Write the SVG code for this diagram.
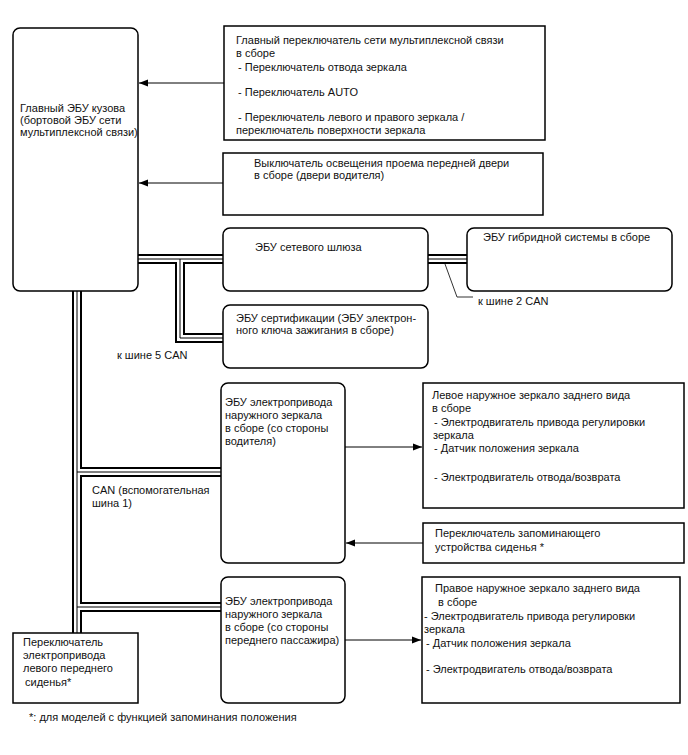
<svg xmlns="http://www.w3.org/2000/svg" width="688" height="755" viewBox="0 0 688 755">
<style>
text{font-family:"Liberation Sans",Arial,sans-serif;font-size:11px;fill:#111}
.box{fill:#fff;stroke:#000;stroke-width:1.5}
.bo{fill:none;stroke:#000;stroke-width:10}
.bi{fill:none;stroke:#fff;stroke-width:6}
.bm{fill:none;stroke:#000;stroke-width:1}
.ar{fill:none;stroke:#000;stroke-width:1;marker-end:url(#ah)}
</style>
<defs>
<marker id="ah" markerWidth="10" markerHeight="8" refX="9" refY="4" orient="auto" markerUnits="userSpaceOnUse">
<path d="M0,0.5 L9,4 L0,7.5 Z" fill="#000"/>
</marker>
<g id="buses">
<path d="M138,259 H223"/>
<path d="M180,259 V338 H223"/>
<path d="M428,259 H467"/>
<path d="M77,291 V633"/>
<path d="M77,472 H221"/>
<path d="M77,607 H221"/>
</g>
</defs>
<rect width="688" height="755" fill="#fff"/>
<g id="connectors">
<use href="#buses" class="bo"/>
<use href="#buses" class="bi"/>
<use href="#buses" class="bm"/>
<path class="ar" d="M224,83 H139"/>
<path class="ar" d="M223,183 H139"/>
<path class="ar" d="M345,447 H422"/>
<path class="ar" d="M423,543 H346"/>
<path class="ar" d="M345,640 H421"/>
<polyline points="445,264 457,297 473,297" fill="none" stroke="#333" stroke-width="1"/>
</g>
<g id="main-ecu">
<rect class="box" x="13" y="28" width="125" height="263" rx="7"/>
<text x="20" y="112">Главный ЭБУ кузова</text>
<text x="20" y="124">(бортовой ЭБУ сети</text>
<text x="20" y="136">мультиплексной связи)</text>
</g>
<g id="multiplex-switch">
<rect class="box" x="224" y="26" width="321" height="114"/>
<text x="236" y="44">Главный переключатель сети мультиплексной связи</text>
<text x="236" y="57">в сборе</text>
<text x="238" y="71">- Переключатель отвода зеркала</text>
<text x="238" y="96">- Переключатель AUTO</text>
<text x="238" y="121">- Переключатель левого и правого зеркала /</text>
<text x="236" y="134">переключатель поверхности зеркала</text>
</g>
<g id="door-light-switch">
<rect class="box" x="223" y="153" width="320" height="62"/>
<text x="254" y="167">Выключатель освещения проема передней двери</text>
<text x="254" y="179">в сборе (двери водителя)</text>
</g>
<g id="gateway-ecu">
<rect class="box" x="223" y="228" width="205" height="63" rx="7"/>
<text x="255" y="251">ЭБУ сетевого шлюза</text>
</g>
<g id="hybrid-ecu">
<rect class="box" x="467" y="228" width="205" height="63" rx="7"/>
<text x="483" y="241">ЭБУ гибридной системы в сборе</text>
</g>
<g id="certification-ecu">
<rect class="box" x="223" y="305" width="205" height="63" rx="7"/>
<text x="236" y="322">ЭБУ сертификации (ЭБУ электрон-</text>
<text x="236" y="334">ного ключа зажигания в сборе)</text>
</g>
<g id="labels">
<text x="117" y="359">к шине 5 CAN</text>
<text x="478" y="305">к шине 2 CAN</text>
<text x="92" y="494">CAN (вспомогательная</text>
<text x="92" y="507">шина 1)</text>
<text x="29" y="721">*: для моделей с функцией запоминания положения</text>
</g>
<g id="driver-mirror-ecu">
<rect class="box" x="221" y="383" width="124" height="180" rx="7"/>
<text x="225" y="406">ЭБУ электропривода</text>
<text x="225" y="419">наружного зеркала</text>
<text x="225" y="432">в сборе (со стороны</text>
<text x="225" y="445">водителя)</text>
</g>
<g id="left-mirror">
<rect class="box" x="423" y="383" width="261" height="125"/>
<text x="432" y="399">Левое наружное зеркало заднего вида</text>
<text x="432" y="412">в сборе</text>
<text x="434" y="426">- Электродвигатель привода регулировки</text>
<text x="433" y="439">зеркала</text>
<text x="434" y="452">- Датчик положения зеркала</text>
<text x="434" y="481">- Электродвигатель отвода/возврата</text>
</g>
<g id="memory-switch">
<rect class="box" x="423" y="523" width="261" height="40"/>
<text x="435" y="537">Переключатель запоминающего</text>
<text x="435" y="551">устройства сиденья *</text>
</g>
<g id="passenger-mirror-ecu">
<rect class="box" x="221" y="577" width="124" height="126" rx="7"/>
<text x="225" y="605">ЭБУ электропривода</text>
<text x="225" y="618">наружного зеркала</text>
<text x="225" y="631">в сборе (со стороны</text>
<text x="225" y="644">переднего пассажира)</text>
</g>
<g id="right-mirror">
<rect class="box" x="422" y="577" width="258" height="126"/>
<text x="435" y="592">Правое наружное зеркало заднего вида</text>
<text x="438" y="606">в сборе</text>
<text x="424" y="620">- Электродвигатель привода регулировки</text>
<text x="424" y="633">зеркала</text>
<text x="426" y="647">- Датчик положения зеркала</text>
<text x="426" y="673">- Электродвигатель отвода/возврата</text>
</g>
<g id="seat-switch">
<rect class="box" x="13" y="633" width="125" height="70"/>
<text x="23" y="646">Переключатель</text>
<text x="23" y="659">электропривода</text>
<text x="23" y="672">левого переднего</text>
<text x="25" y="686">сиденья*</text>
</g>
</svg>
